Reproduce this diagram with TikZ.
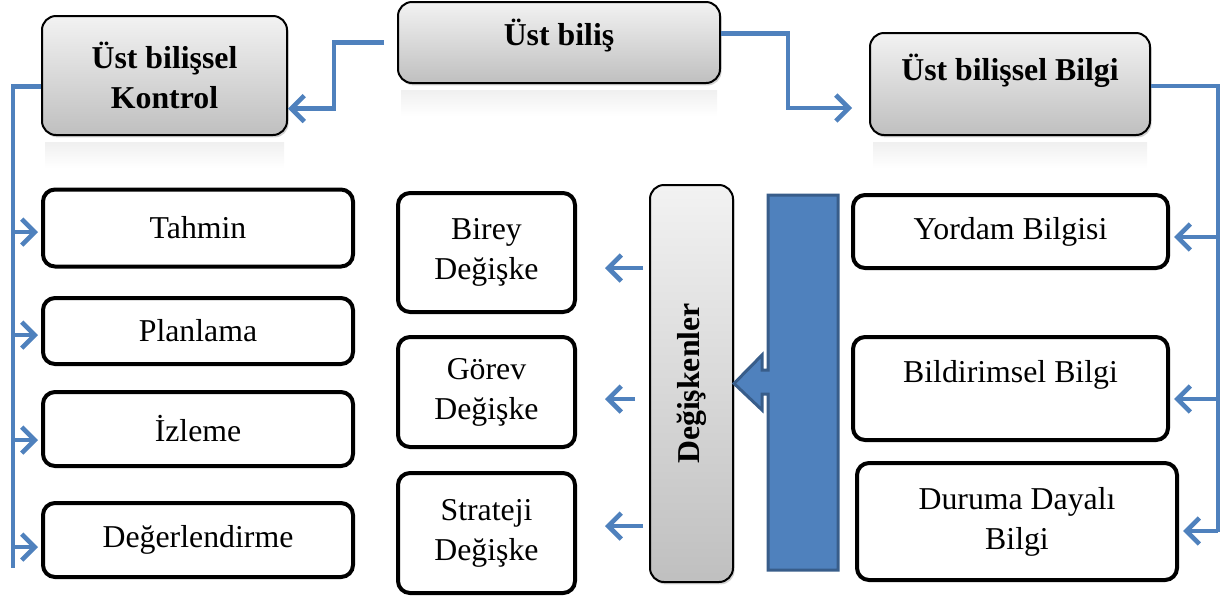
\documentclass[tikz,border=0pt]{standalone}
\usepackage{fontspec}
\setmainfont{Liberation Serif}
\usetikzlibrary{arrows.meta,shadows}
\definecolor{lineblue}{RGB}{79,129,189}
\definecolor{edgeblue}{RGB}{56,93,138}

\begin{document}
\begin{tikzpicture}[x=0.5pt,y=-0.5pt,
  every node/.style={font=\fontsize{15.9}{20}\selectfont, align=center},
  graybox/.style={draw, line width=1pt, rounded corners=7pt, top color=black!5, bottom color=black!25,
    font=\fontsize{15.9}{20}\selectfont\bfseries,
    drop shadow={opacity=0.35, shadow xshift=0.8pt, shadow yshift=-1.2pt}},
  whitebox/.style={draw, line width=2pt, rounded corners=6pt, fill=white},
  link/.style={draw=lineblue, line width=2.3pt},
  arr/.style={link, -{Straight Barb[length=6.5pt,width=13pt]}}]
\useasboundingbox (0,0) rectangle (1226,596);

% ust kutular
\node[graybox, minimum width=122.5pt, minimum height=59.5pt] (kontrol) at (164.5,75.5) {Üst bilişsel\\Kontrol};
\node[graybox, minimum width=161pt, minimum height=40.5pt, text depth=10pt] (ust) at (559,42.5) {Üst biliş};
\node[graybox, minimum width=140pt, minimum height=51pt, text depth=17pt] (bilgi) at (1010,84) {Üst bilişsel Bilgi};
\foreach \n in {kontrol,ust,bilgi}
  \shade[top color=black!6, bottom color=white] ([xshift=2pt,yshift=-3pt]\n.south west) rectangle ([xshift=-2pt,yshift=-16pt]\n.south east);

% kontrol
\node[whitebox, minimum width=155pt, minimum height=38.5pt] (tahmin) at (198,228) {Tahmin};
\node[whitebox, minimum width=155pt, minimum height=33pt] (planlama) at (198,331) {Planlama};
\node[whitebox, minimum width=155pt, minimum height=37pt] (izleme) at (198,429) {İzleme};
\node[whitebox, minimum width=155pt, minimum height=37pt] (degerlendirme) at (198,540) {Değerlendirme};

% degiskenler
\node[whitebox, minimum width=88.5pt, minimum height=59.5pt] (birey) at (486.5,252.5) {Birey\\Değişke};
\node[whitebox, minimum width=88.5pt, minimum height=55pt] (gorev) at (486.5,392) {Görev\\Değişke};
\node[whitebox, minimum width=88.5pt, minimum height=60pt] (strateji) at (486.5,533) {Strateji\\Değişke};
\node[graybox, rotate=90, minimum width=198.5pt, minimum height=41.5pt] (var) at (691.5,383.5) {Değişkenler};

% bilgi
\node[whitebox, minimum width=157.5pt, minimum height=36.5pt] (yordam) at (1010.5,231.5) {Yordam Bilgisi};
\node[whitebox, minimum width=157.5pt, minimum height=51.5pt, text depth=17pt] (bildirimsel) at (1010.5,388.5) {Bildirimsel Bilgi};
\node[whitebox, minimum width=160pt, minimum height=58.5pt] (duruma) at (1017,521.5) {Duruma Dayalı\\Bilgi};

% block arrow
\draw[fill=lineblue, draw=edgeblue, line width=1.5pt] (768,195) -- (838,195) -- (838,570) -- (768,570) -- (768,394)
  -- (762,394) -- (762,410) -- (var.south) -- (762,355) -- (762,370) -- (768,370) -- cycle;

% connectors
\draw[arr] ([xshift=-6.5pt]ust.west) -- ++(-50,0) |- ([yshift=-16.5pt]kontrol.east);
\draw[arr, shorten >=8.5pt] ([yshift=4.5pt]ust.east) -- ++(67,0) |- ([yshift=-12pt]bilgi.west);

\draw[link] ([yshift=-5.5pt]kontrol.west) -| (13,568);
\foreach \n/\y in {tahmin/232, planlama/335, izleme/440, degerlendirme/547}
  \draw[arr, shorten >=1.5pt] (13,\y) -- (\n.west |- 13,\y);

\draw[link] ([yshift=-1pt]bilgi.east) -| (1218,532);
\foreach \n/\y in {yordam/237, bildirimsel/399, duruma/531}
  \draw[arr, shorten >=2pt] (1218,\y) -- (\n.east |- 1218,\y);

\foreach \n/\y/\x in {birey/268/643, gorev/399/635, strateji/526/643}
  \draw[arr, shorten >=14pt] (\x,\y) -- (\n.east |- \x,\y);
\end{tikzpicture}
\end{document}
